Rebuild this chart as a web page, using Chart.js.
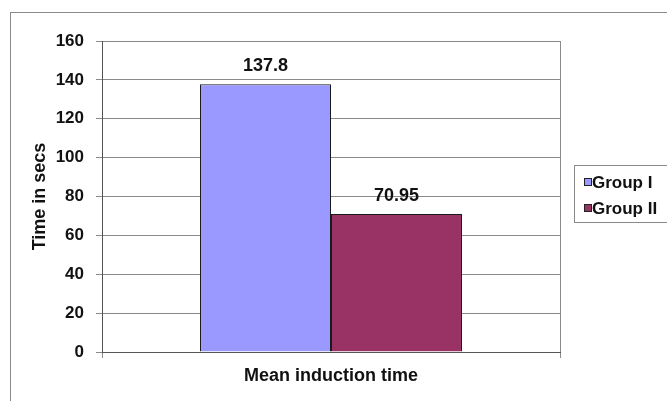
<!DOCTYPE html>
<html>
<head>
<meta charset="utf-8">
<script src="https://cdn.jsdelivr.net/npm/chart.js@4/dist/chart.umd.min.js"></script>
<style>
  html, body { margin: 0; padding: 0; background: #fff; }
  #wrap { width: 667px; height: 401px; }
</style>
</head>
<body>
<div id="wrap"><canvas id="c" width="667" height="401"></canvas></div>
<script>
// Mean induction time per group
const categories = ['Mean induction time'];
const seriesNames = ['Group I', 'Group II'];
const groupI = [137.8];
const groupII = [70.95];
const yTicks = [0, 20, 40, 60, 80, 100, 120, 140, 160];

const FONT = '"Liberation Sans", Arial, sans-serif';
const fillColors = ['#9999FF', '#993366'];

// White background and the outer frame of the chart
const framePlugin = {
  id: 'frame',
  beforeDraw(chart) {
    const ctx = chart.ctx;
    ctx.save();
    ctx.fillStyle = '#fff';
    ctx.fillRect(0, 0, chart.width, chart.height);
    ctx.strokeStyle = '#8a8a8a';
    ctx.lineWidth = 1;
    ctx.strokeRect(10.5, 12.5, chart.width + 20, chart.height + 20);
    ctx.restore();
  }
};

// Value labels above each bar
const valueLabels = {
  id: 'valueLabels',
  afterDatasetsDraw(chart) {
    const ctx = chart.ctx;
    ctx.save();
    ctx.font = 'bold 18px ' + FONT;
    ctx.fillStyle = '#111';
    ctx.textAlign = 'center';
    ctx.textBaseline = 'middle';
    chart.data.datasets.forEach((ds, i) => {
      const meta = chart.getDatasetMeta(i);
      meta.data.forEach((bar, j) => {
        ctx.fillText(String(ds.data[j]), bar.x, bar.y - 18);
      });
    });
    ctx.restore();
  }
};

// Boxed legend on the right
const boxLegend = {
  id: 'boxLegend',
  afterDraw(chart) {
    const ctx = chart.ctx;
    ctx.save();
    ctx.strokeStyle = '#8a8a8a';
    ctx.lineWidth = 1;
    ctx.strokeRect(574.5, 165.5, 120, 57);
    ctx.font = 'bold 17px ' + FONT;
    ctx.textAlign = 'left';
    ctx.textBaseline = 'middle';
    chart.data.datasets.forEach((ds, i) => {
      const cy = 182 + i * 26;
      ctx.fillStyle = ds.backgroundColor;
      ctx.fillRect(584, cy - 3.5, 7, 7);
      ctx.strokeStyle = '#222';
      ctx.strokeRect(584.5, cy - 3.5, 7, 7);
      ctx.fillStyle = '#111';
      ctx.fillText(ds.label, 592, cy + 1);
    });
    ctx.restore();
  }
};

new Chart(document.getElementById('c'), {
  type: 'bar',
  data: {
    labels: categories,
    datasets: [
      { label: seriesNames[0], data: groupI, backgroundColor: fillColors[0], borderColor: '#1a1a1a', borderWidth: 1 },
      { label: seriesNames[1], data: groupII, backgroundColor: fillColors[1], borderColor: '#1a1a1a', borderWidth: 1 }
    ]
  },
  options: {
    responsive: false,
    animation: false,
    devicePixelRatio: 1,
    layout: { padding: { left: 0, top: 41, right: 107, bottom: 0 } },
    datasets: { bar: { categoryPercentage: 0.572, barPercentage: 1 } },
    plugins: {
      legend: { display: false },
      tooltip: { enabled: false }
    },
    scales: {
      x: {
        offset: true,
        afterFit(s) { s.height = 49; },
        grid: { display: true, offset: true, color: '#8a8a8a', lineWidth: 1, tickLength: 6, drawOnChartArea: true },
        border: { display: true, color: '#555', width: 1 },
        ticks: { color: '#111', font: { family: FONT, size: 18, weight: 'bold' }, padding: 7 }
      },
      y: {
        min: 0,
        max: 160,
        afterFit(s) { s.width = 102; },
        afterBuildTicks(s) { s.ticks = yTicks.map(v => ({ value: v })); },
        grid: { color: '#8a8a8a', lineWidth: 1, tickLength: 6 },
        border: { display: true, color: '#555', width: 1 },
        ticks: { color: '#111', font: { family: FONT, size: 17, weight: 'bold' }, padding: 12 },
        title: {
          display: true,
          text: 'Time in secs',
          color: '#111',
          font: { family: FONT, size: 18, weight: 'bold' },
          padding: { top: 29, bottom: 0 }
        }
      }
    }
  },
  plugins: [framePlugin, valueLabels, boxLegend]
});
</script>
</body>
</html>
